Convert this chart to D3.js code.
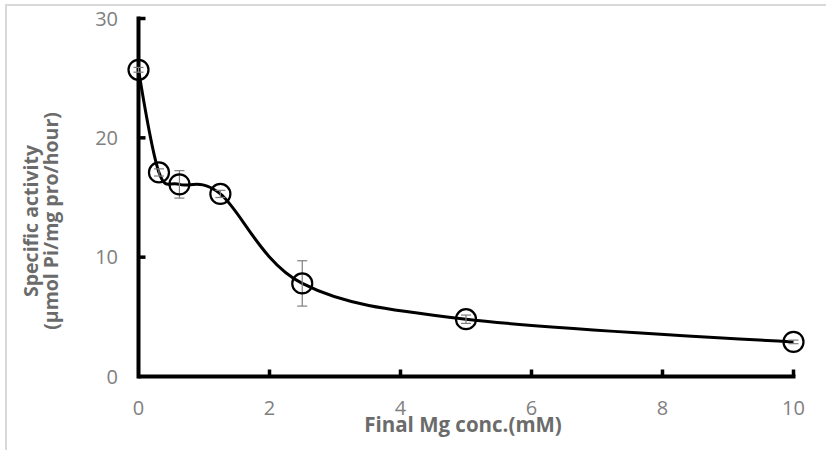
<!DOCTYPE html>
<html>
<head>
<meta charset="utf-8">
<script src="https://cdn.jsdelivr.net/npm/d3@7"></script>
<style>
  html, body { margin: 0; padding: 0; background: #fff; }
  svg { display: block; }
  text { font-family: "Open Sans", "Noto Sans", sans-serif; }
</style>
</head>
<body>
<svg id="chart" width="827" height="450"></svg>
<script>
// Final Mg concentration (mM) and measured specific activity
const mgConc = [0, 0.3125, 0.625, 1.25, 2.5, 5, 10];
const activity = [25.7, 17.1, 16.1, 15.3, 7.8, 4.8, 2.9];
const activityErr = [0.2, 0.3, 1.15, 0.3, 1.9, 0.35, 0.15];

const xTicks = [0, 2, 4, 6, 8, 10];
const yTicks = [0, 10, 20, 30];

const xTitle = "Final Mg conc.(mM)";
const yTitleLines = ["Specific activity", "(µmol Pi/mg pro/hour)"];

const svg = d3.select("#chart");

// light outer frame (top and left edges)
svg.append("path")
  .attr("d", "M6,450 V5 H826")
  .attr("fill", "none")
  .attr("stroke", "#d9d9d9")
  .attr("stroke-width", 2);

const x = d3.scaleLinear().domain([0, 10]).range([138.5, 793.5]);
const y = d3.scaleLinear().domain([0, 30]).range([376.5, 18.5]);

const axisColor = "#000";
const labelColor = "#808080";
const titleColor = "#6b6b6b";

// axis lines
svg.append("line")
  .attr("x1", x(0)).attr("x2", x(10) + 2)
  .attr("y1", y(0)).attr("y2", y(0))
  .attr("stroke", axisColor).attr("stroke-width", 4);
svg.append("line")
  .attr("x1", x(0)).attr("x2", x(0))
  .attr("y1", y(0) + 2).attr("y2", y(30) - 2)
  .attr("stroke", axisColor).attr("stroke-width", 4);

// inward tick marks
svg.append("g").selectAll("line")
  .data(xTicks.filter(d => d > 0))
  .join("line")
  .attr("x1", d => x(d)).attr("x2", d => x(d))
  .attr("y1", y(0)).attr("y2", y(0) - 7)
  .attr("stroke", axisColor).attr("stroke-width", 3.5);
svg.append("g").selectAll("line")
  .data(yTicks.filter(d => d > 0))
  .join("line")
  .attr("x1", x(0)).attr("x2", x(0) + 7)
  .attr("y1", d => y(d)).attr("y2", d => y(d))
  .attr("stroke", axisColor).attr("stroke-width", 3.5);

// tick labels
svg.append("g").selectAll("text")
  .data(xTicks)
  .join("text")
  .attr("x", d => x(d))
  .attr("y", 415)
  .attr("text-anchor", "middle")
  .attr("font-size", 20)
  .attr("fill", labelColor)
  .text(d => d);
svg.append("g").selectAll("text")
  .data(yTicks)
  .join("text")
  .attr("x", 118)
  .attr("y", d => y(d) + 7)
  .attr("text-anchor", "end")
  .attr("font-size", 20)
  .attr("fill", labelColor)
  .text(d => d);

// axis titles
svg.append("text")
  .attr("x", 463)
  .attr("y", 432)
  .attr("text-anchor", "middle")
  .attr("font-size", 20.5)
  .attr("font-weight", "bold")
  .attr("fill", titleColor)
  .text(xTitle);

const yTitle = svg.append("text")
  .attr("transform", "translate(0,221) rotate(-90)")
  .attr("text-anchor", "middle")
  .attr("font-size", 19.5)
  .attr("font-weight", "bold")
  .attr("fill", titleColor);
yTitle.selectAll("tspan")
  .data(yTitleLines)
  .join("tspan")
  .attr("x", 0)
  .attr("y", (d, i) => 38 + i * 20)
  .text(d => d);

const points = mgConc.map((c, i) => ({ c, v: activity[i], e: activityErr[i] }));

// smoothed trend through the measurements
const line = d3.line()
  .x(d => x(d.c))
  .y(d => y(d.v))
  .curve(d3.curveCardinal.tension(0));
svg.append("path")
  .datum(points)
  .attr("d", line)
  .attr("fill", "none")
  .attr("stroke", "#000")
  .attr("stroke-width", 3);

// error bars
const eb = svg.append("g")
  .attr("stroke", "#7f7f7f")
  .attr("stroke-width", 1.2);
eb.selectAll("line.stem")
  .data(points)
  .join("line")
  .attr("class", "stem")
  .attr("x1", d => x(d.c)).attr("x2", d => x(d.c))
  .attr("y1", d => y(d.v + d.e)).attr("y2", d => y(d.v - d.e));
eb.selectAll("line.capTop")
  .data(points)
  .join("line")
  .attr("class", "capTop")
  .attr("x1", d => x(d.c) - 5).attr("x2", d => x(d.c) + 5)
  .attr("y1", d => y(d.v + d.e)).attr("y2", d => y(d.v + d.e));
eb.selectAll("line.capBot")
  .data(points)
  .join("line")
  .attr("class", "capBot")
  .attr("x1", d => x(d.c) - 5).attr("x2", d => x(d.c) + 5)
  .attr("y1", d => y(d.v - d.e)).attr("y2", d => y(d.v - d.e));

// open circle markers
svg.append("g").selectAll("circle")
  .data(points)
  .join("circle")
  .attr("cx", d => x(d.c))
  .attr("cy", d => y(d.v))
  .attr("r", 10)
  .attr("fill", "none")
  .attr("stroke", "#000")
  .attr("stroke-width", 2.2);
</script>
</body>
</html>
